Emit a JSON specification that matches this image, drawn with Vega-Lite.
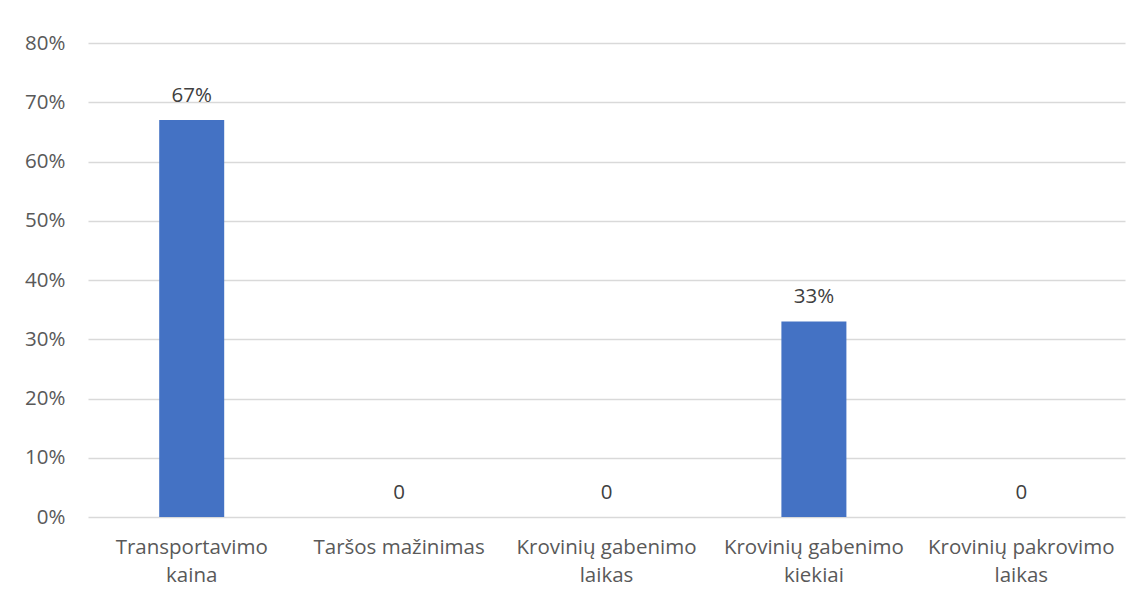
{
  "$schema": "https://vega.github.io/schema/vega-lite/v6.json",
  "width": 1037,
  "height": 474,
  "autosize": {"type": "none"},
  "padding": {"left": 88, "top": 43, "right": 17, "bottom": 84},
  "background": "white",
  "data": {
    "values": [
      {"kriterijus": "Transportavimo kaina", "dalis": 0.67},
      {"kriterijus": "Taršos mažinimas", "dalis": 0},
      {"kriterijus": "Krovinių gabenimo laikas", "dalis": 0},
      {"kriterijus": "Krovinių gabenimo kiekiai", "dalis": 0.33},
      {"kriterijus": "Krovinių pakrovimo laikas", "dalis": 0}
    ]
  },
  "encoding": {
    "x": {
      "field": "kriterijus",
      "type": "nominal",
      "sort": null,
      "scale": {"paddingInner": 0.6866, "paddingOuter": 0.3433},
      "axis": {
        "title": null,
        "domain": false,
        "ticks": false,
        "labelAngle": 0,
        "labelPadding": 20,
        "labelLineHeight": 28,
        "labelLimit": 0,
        "labelFontSize": 20.5,
        "labelFont": "Open Sans",
        "labelColor": "#595959",
        "labelExpr": "length(datum.label) > 17 ? [substring(datum.label, 0, lastindexof(datum.label, ' ')), substring(datum.label, lastindexof(datum.label, ' ') + 1)] : datum.label"
      }
    },
    "y": {
      "field": "dalis",
      "type": "quantitative",
      "scale": {"domain": [0, 0.8], "nice": false},
      "axis": {
        "title": null,
        "format": ".0%",
        "values": [0, 0.1, 0.2, 0.3, 0.4, 0.5, 0.6, 0.7, 0.8],
        "domain": false,
        "ticks": false,
        "labelPadding": 23,
        "labelFontSize": 20.5,
        "labelFont": "Open Sans",
        "labelColor": "#595959",
        "gridColor": "#d9d9d9",
        "gridWidth": 1.5
      }
    }
  },
  "layer": [
    {"mark": {"type": "bar", "color": "#4472C4"}},
    {
      "mark": {
        "type": "text",
        "baseline": "alphabetic",
        "dy": -18,
        "fontSize": 20.5,
        "font": "Open Sans",
        "color": "#404040"
      },
      "encoding": {
        "text": {
          "condition": {"test": "datum.dalis === 0", "value": "0"},
          "field": "dalis",
          "format": ".0%"
        }
      }
    }
  ],
  "config": {"view": {"stroke": null}}
}
